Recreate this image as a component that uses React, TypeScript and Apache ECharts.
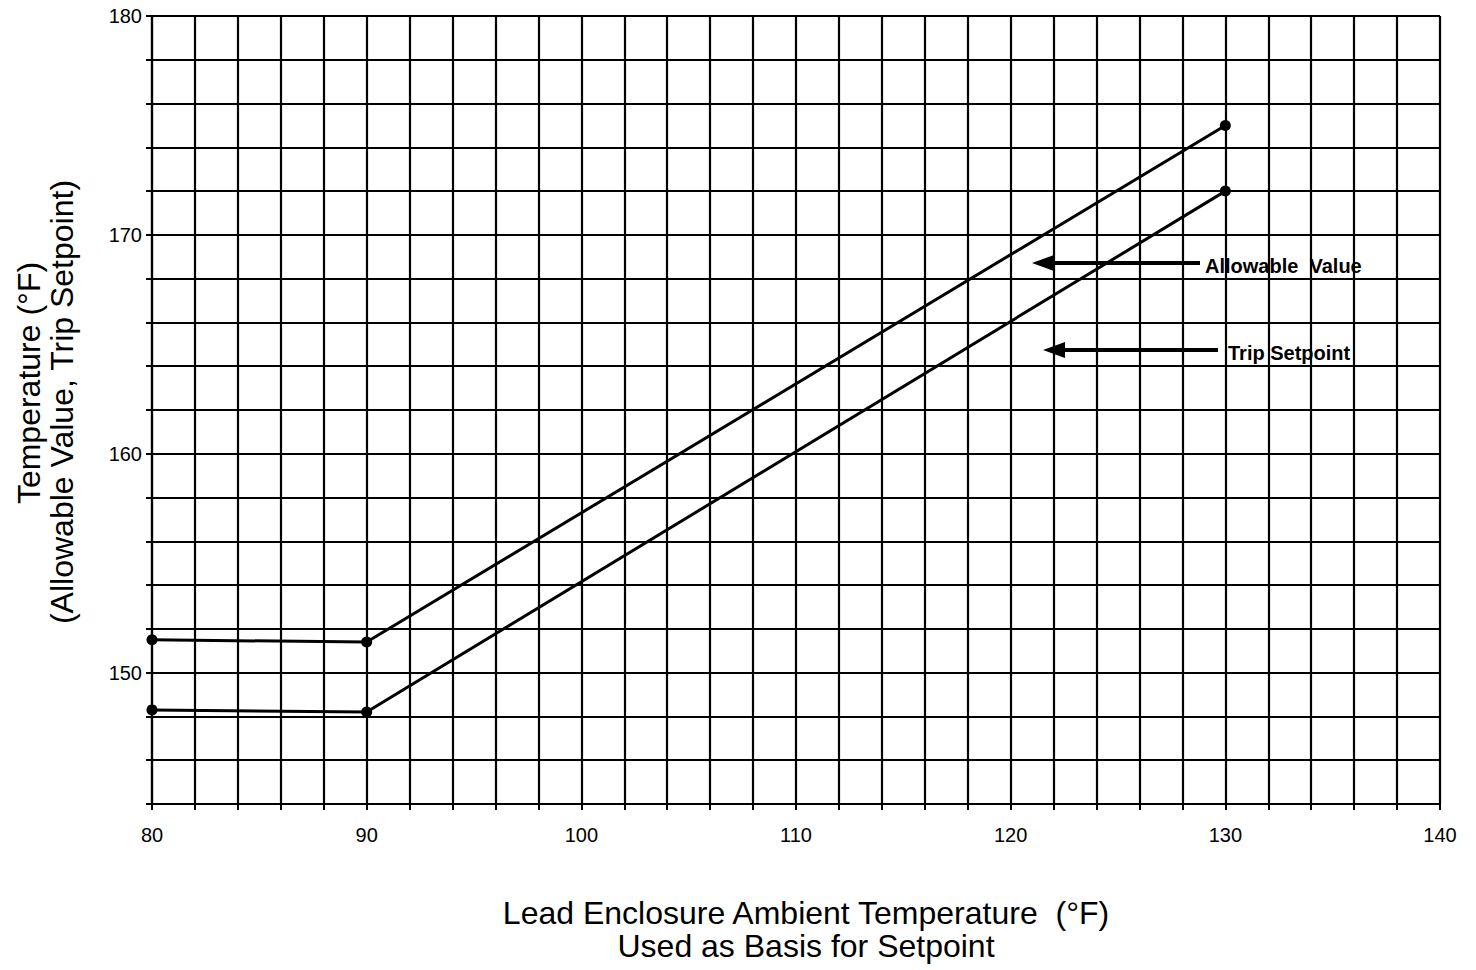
import React, { useEffect, useRef } from "react";
import * as echarts from "echarts";

const allowableValue: [number, number][] = [
  [80, 151.5],
  [90, 151.4],
  [130, 175],
];
const tripSetpoint: [number, number][] = [
  [80, 148.3],
  [90, 148.2],
  [130, 172],
];
const xLabelValues = [80, 90, 100, 110, 120, 130, 140];
const yLabelValues = [150, 160, 170, 180];

const xTitle = ["Lead Enclosure Ambient Temperature  (°F)", "Used as Basis for Setpoint"];
const yTitle = ["Temperature (°F)", "(Allowable Value, Trip Setpoint)"];

const FONT = "'Liberation Sans', Arial, sans-serif";

export default function App() {
  const ref = useRef<HTMLDivElement>(null);
  useEffect(() => {
    if (!ref.current) return;
    const chart = echarts.init(ref.current, undefined, { renderer: "svg" });
    const gridLine = { show: true, lineStyle: { color: "#000", width: 2.2, type: "solid" as const } };
    const arrow = (tipX: number, y: number, endX: number) => [
      {
        type: "line",
        shape: { x1: tipX + 18, y1: y, x2: endX, y2: y },
        style: { stroke: "#000", lineWidth: 4 },
      },
      {
        type: "polygon",
        shape: { points: [[tipX, y], [tipX + 22, y - 8], [tipX + 22, y + 8]] },
        style: { fill: "#000" },
      },
    ];
    const titleFont = `32px ${FONT}`;
    chart.setOption({
      animation: false,
      backgroundColor: "#fff",
      grid: { left: 152, right: 36, top: 16, bottom: 166 },
      xAxis: {
        type: "value",
        min: 80,
        max: 140,
        interval: 2,
        axisLine: { show: true, lineStyle: { color: "#000", width: 2.2 } },
        axisTick: { show: true, length: 6, lineStyle: { color: "#000", width: 2 } },
        axisLabel: {
          color: "#000",
          fontSize: 20,
          fontFamily: FONT,
          margin: 21,
          formatter: (v: number) => (xLabelValues.includes(v) ? String(v) : ""),
        },
        splitLine: gridLine,
      },
      yAxis: {
        type: "value",
        min: 144,
        max: 180,
        interval: 2,
        axisLine: { show: true, lineStyle: { color: "#000", width: 2.2 } },
        axisTick: { show: true, length: 6, lineStyle: { color: "#000", width: 2 } },
        axisLabel: {
          color: "#000",
          fontSize: 20,
          fontFamily: FONT,
          margin: 10,
          formatter: (v: number) => (yLabelValues.includes(v) ? String(v) : ""),
        },
        splitLine: gridLine,
      },
      series: [
        {
          name: "Allowable Value",
          type: "line",
          data: allowableValue,
          symbol: "circle",
          symbolSize: 11,
          itemStyle: { color: "#000" },
          lineStyle: { color: "#000", width: 3 },
          z: 5,
        },
        {
          name: "Trip Setpoint",
          type: "line",
          data: tripSetpoint,
          symbol: "circle",
          symbolSize: 11,
          itemStyle: { color: "#000" },
          lineStyle: { color: "#000", width: 3 },
          z: 5,
        },
      ],
      graphic: [
        ...arrow(1032, 263, 1200),
        ...arrow(1043, 350, 1218),
        {
          type: "text",
          x: 1205,
          y: 266,
          style: {
            text: "Allowable  Value",
            fill: "#000",
            font: `bold 20px ${FONT}`,
            verticalAlign: "middle",
            align: "left",
          },
        },
        {
          type: "text",
          x: 1228,
          y: 353,
          style: {
            text: "Trip Setpoint",
            fill: "#000",
            font: `bold 20px ${FONT}`,
            verticalAlign: "middle",
            align: "left",
          },
        },
        {
          type: "text",
          x: 806,
          y: 913,
          style: { text: xTitle[0], fill: "#000", font: titleFont, align: "center", verticalAlign: "middle" },
        },
        {
          type: "text",
          x: 806,
          y: 946,
          style: { text: xTitle[1], fill: "#000", font: titleFont, align: "center", verticalAlign: "middle" },
        },
        {
          type: "text",
          x: 29,
          y: 383,
          rotation: Math.PI / 2,
          style: { text: yTitle[0], fill: "#000", font: titleFont, align: "center", verticalAlign: "middle" },
        },
        {
          type: "text",
          x: 62,
          y: 402,
          rotation: Math.PI / 2,
          style: { text: yTitle[1], fill: "#000", font: titleFont, align: "center", verticalAlign: "middle" },
        },
      ],
    });
    return () => chart.dispose();
  }, []);
  return (
    <div
      ref={ref}
      style={{ position: "fixed", left: 0, top: 0, width: 1476, height: 970, background: "#fff" }}
    />
  );
}
